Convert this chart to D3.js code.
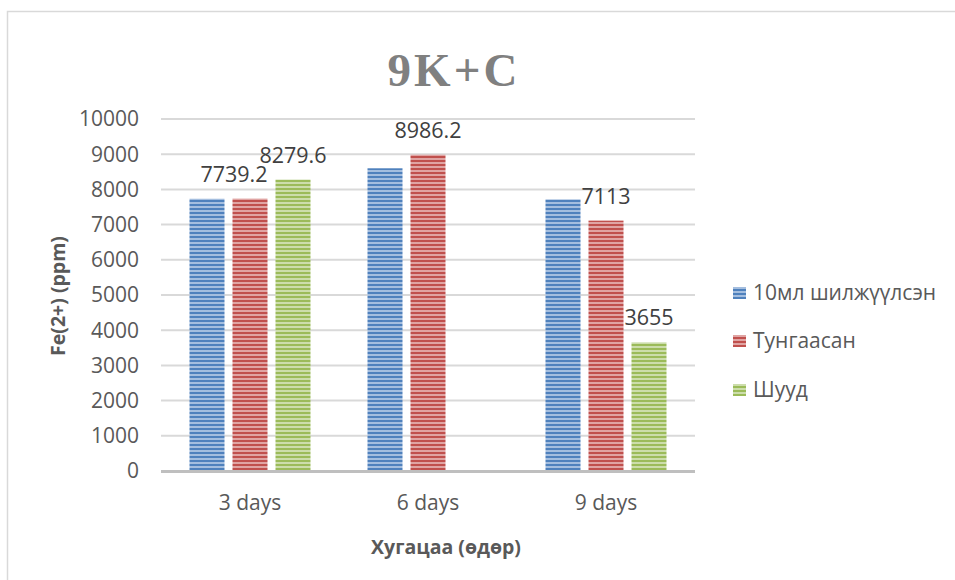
<!DOCTYPE html>
<html>
<head>
<meta charset="utf-8">
<script src="https://cdn.jsdelivr.net/npm/d3@7"></script>
<style>
  body { margin: 0; background: #fff; }
  svg { display: block; font-family: 'Open Sans', sans-serif; }
</style>
</head>
<body>
<svg width="955" height="580"></svg>
<script>
const categories = ['3 days', '6 days', '9 days'];
const seriesNames = ['10мл шилжүүлсэн', 'Тунгаасан', 'Шууд'];
const blueValues = [7735, 8600, 7718];
const redValues = [7739.2, 8986.2, 7113];
const greenValues = [8279.6, null, 3655];
const yTicks = [0, 1000, 2000, 3000, 4000, 5000, 6000, 7000, 8000, 9000, 10000];
// which bars carry a data label, and the text Excel printed
const labelTexts = [
  [null, '7739.2', '8279.6'],
  [null, '8986.2', null],
  [null, '7113', '3655']
];

const colors = ['#4f81bd', '#c0504d', '#9bbb59'];
const lightColors = ['#b9cde8', '#e8b9b8', '#d8e6bf'];
const values = [blueValues, redValues, greenValues];

const svg = d3.select('svg');

// chart area border
svg.append('rect')
  .attr('x', 7.5).attr('y', 11.5)
  .attr('width', 1000).attr('height', 1000)
  .attr('fill', 'none')
  .attr('stroke', '#d9d9d9')
  .attr('stroke-width', 1.5);

// stripe patterns
const defs = svg.append('defs');
colors.forEach((c, i) => {
  const p = defs.append('pattern')
    .attr('id', 'stripe' + i)
    .attr('patternUnits', 'userSpaceOnUse')
    .attr('width', 8).attr('height', 4);
  p.append('rect').attr('width', 8).attr('height', 4).attr('fill', c);
  p.append('rect').attr('y', 2.2).attr('width', 8).attr('height', 1.6).attr('fill', lightColors[i]);
});

const plot = { left: 161, right: 695, top: 119, bottom: 471 };

const x0 = d3.scaleBand()
  .domain(categories)
  .range([plot.left, plot.right])
  .padding(0);

const x1 = d3.scaleBand()
  .domain([0, 1, 2])
  .range([28.5, x0.bandwidth() - 28.5])
  .paddingInner(0.186);

const y = d3.scaleLinear()
  .domain([0, 10000])
  .range([plot.bottom, plot.top]);

// gridlines
svg.append('g')
  .selectAll('line')
  .data(yTicks.slice(1))
  .join('line')
  .attr('x1', plot.left).attr('x2', plot.right)
  .attr('y1', d => y(d)).attr('y2', d => y(d))
  .attr('stroke', '#d9d9d9')
  .attr('stroke-width', 2);

// y tick labels
svg.append('g')
  .selectAll('text')
  .data(yTicks)
  .join('text')
  .attr('x', 139)
  .attr('y', d => y(d))
  .attr('dy', '0.35em')
  .attr('text-anchor', 'end')
  .attr('fill', '#595959')
  .style('font-size', '21px')
  .text(d => d);

// bars
const groups = svg.append('g')
  .selectAll('g')
  .data(categories)
  .join('g')
  .attr('transform', d => `translate(${x0(d)},0)`);

groups.selectAll('rect')
  .data((d, ci) => values.map((v, si) => ({ si, v: v[ci] })).filter(d => d.v != null))
  .join('rect')
  .attr('x', d => x1(d.si))
  .attr('width', x1.bandwidth())
  .attr('y', d => y(d.v))
  .attr('height', d => y(0) - y(d.v))
  .attr('fill', d => `url(#stripe${d.si})`);

// data labels
groups.selectAll('text')
  .data((d, ci) => values.map((v, si) => ({ si, v: v[ci], t: labelTexts[ci][si], ci })).filter(d => d.t))
  .join('text')
  .attr('x', d => x1(d.si) + x1.bandwidth() / 2 + (d.ci === 0 && d.si === 1 ? -16 : 0))
  .attr('y', d => y(d.v) - 17)
  .attr('text-anchor', 'middle')
  .attr('fill', '#404040')
  .style('font-size', '21.5px')
  .text(d => d.t);

// x axis line
svg.append('line')
  .attr('x1', plot.left).attr('x2', plot.right)
  .attr('y1', plot.bottom + 0.5).attr('y2', plot.bottom + 0.5)
  .attr('stroke', '#bfbfbf')
  .attr('stroke-width', 3);

// x tick labels
svg.append('g')
  .selectAll('text')
  .data(categories)
  .join('text')
  .attr('x', d => x0(d) + x0.bandwidth() / 2)
  .attr('y', 503)
  .attr('dy', '0.35em')
  .attr('text-anchor', 'middle')
  .attr('fill', '#595959')
  .style('font-size', '21px')
  .text(d => d);

// titles
svg.append('text')
  .attr('x', 454).attr('y', 86)
  .attr('text-anchor', 'middle')
  .attr('fill', '#808080')
  .style('font-family', "'Liberation Serif', 'DejaVu Serif', serif")
  .style('font-weight', 'bold')
  .style('font-size', '47px')
  .style('letter-spacing', '3px')
  .text('9K+C');

svg.append('text')
  .attr('transform', 'translate(65,296) rotate(-90)')
  .attr('text-anchor', 'middle')
  .attr('fill', '#595959')
  .style('font-weight', 'bold')
  .style('font-size', '19.5px')
  .text('Fe(2+) (ppm)');

svg.append('text')
  .attr('x', 446).attr('y', 554)
  .attr('text-anchor', 'middle')
  .attr('fill', '#595959')
  .style('font-weight', 'bold')
  .style('font-size', '19.5px')
  .text('Хугацаа (өдөр)');

// legend
const legendY = [293, 341, 390];
const legend = svg.append('g')
  .selectAll('g')
  .data(seriesNames)
  .join('g')
  .attr('transform', (d, i) => `translate(733,${legendY[i]})`);

legend.append('rect')
  .attr('x', 0).attr('y', -6)
  .attr('width', 13).attr('height', 12)
  .attr('fill', (d, i) => `url(#stripe${i})`);

legend.append('text')
  .attr('x', 20)
  .attr('dy', '0.35em')
  .attr('fill', '#595959')
  .style('font-size', '21px')
  .text(d => d);
</script>
</body>
</html>
